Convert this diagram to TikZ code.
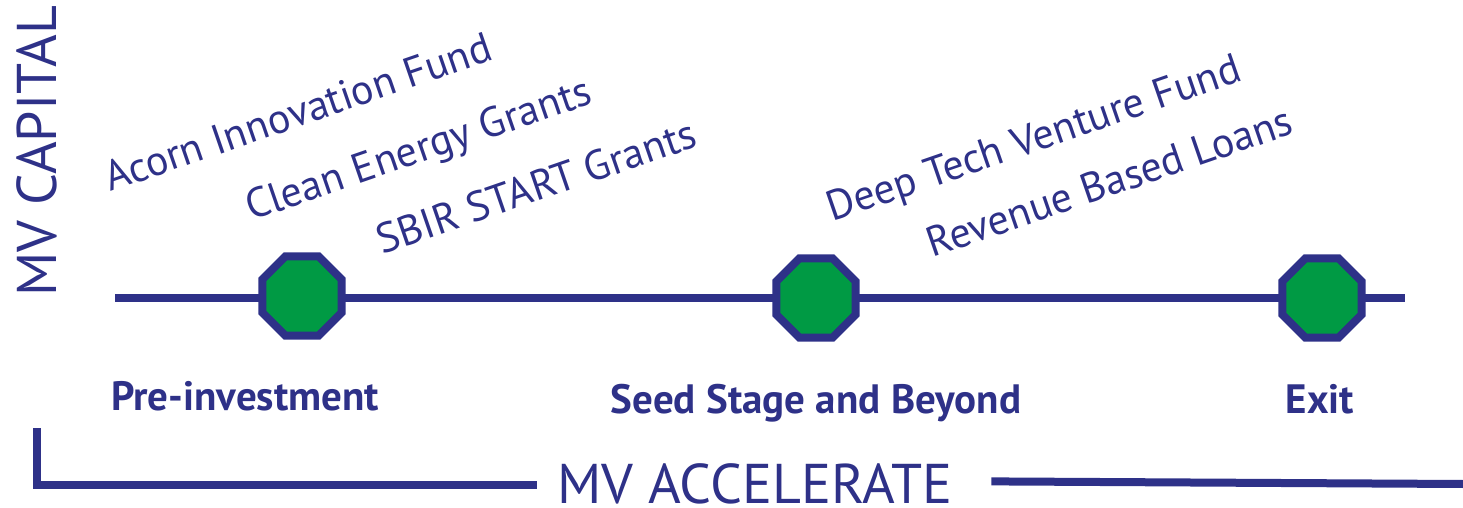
\documentclass[tikz,border=0pt]{standalone}
\usepackage{fontspec}
\setmainfont{PT Sans}
\usetikzlibrary{positioning,calc,shapes.geometric}
\definecolor{mvblue}{RGB}{46,49,136}
\definecolor{mvgreen}{RGB}{0,154,68}

\begin{document}
\begin{tikzpicture}[x=0.5pt,y=-0.5pt,
   stage/.style={regular polygon,regular polygon sides=8,draw=mvblue,fill=mvgreen,line width=4pt,minimum size=43pt,inner sep=0pt},
   fund/.style={text=mvblue,font=\fontsize{21}{24}\selectfont,rotate=19,anchor=base west,inner sep=0pt},
   phase/.style={text=mvblue,font=\bfseries\fontsize{20.5}{23}\selectfont,anchor=base,inner sep=0pt},
   brand/.style={text=mvblue,font=\fontsize{28}{32}\selectfont,inner sep=0pt},
   rail/.style={draw=mvblue,line width=4pt}]
   \useasboundingbox (0,0) rectangle (1463,508);
   % timeline
   \coordinate (ls) at (115,298);
   \coordinate (le) at (1405,298);
   \draw [rail] (ls) -- (le);
   \path   (302,296) node (pre)  [stage] {}
           (816,298) node (seed) [stage] {}
           (1322,298) node (exit) [stage] {};
   % stage names
   \node (lpre)  [phase] at (245,410) {Pre-investment};
   \node (lseed) [phase] at (816,413) {Seed Stage and Beyond};
   \node (lexit) [phase] at (1320,413) {Exit};
   % funds
   \node (acorn) [fund] at (110,192) {Acorn Innovation Fund};
   \node (clean) [fund] at (251,221) {Clean Energy Grants};
   \node (sbir)  [fund] at (382,255) {SBIR START Grants};
   \node (deep)  [fund] at (832,222) {Deep Tech Venture Fund};
   \node (rbl)   [fund] at (932,258) {Revenue Based Loans};
   % frame
   \node (cap) [brand,rotate=90,anchor=base] at (56,151) {MV CAPITAL};
   \node (acc) [brand,anchor=base] at (755,503) {MV ACCELERATE};
   \coordinate (bt) at (37,428);
   \coordinate (re) at (1463,484);
   \draw [rail] (bt) |- ([xshift=-10pt,yshift=-1pt]acc.west);
   \draw [rail] ([xshift=19pt,yshift=1pt]acc.east) -- (re);
\end{tikzpicture}
\end{document}
